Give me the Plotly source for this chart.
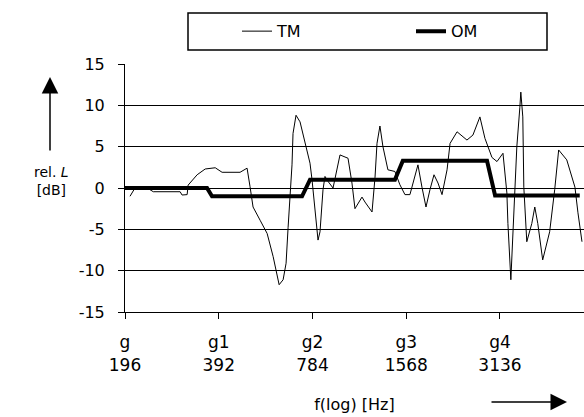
import plotly.graph_objects as go

# ---- data ----
tm_freq = [203.4, 211, 227.7, 241.6, 294.6, 298.9, 310.3, 312.6, 334.1, 354.6, 381.9, 401.8,
           458.9, 483.3, 494.1, 505.2, 532.2, 560.6, 586.1, 612.6, 630.9, 644.9, 654.5, 669.1,
           673.8, 678.9, 694.1, 715, 741.9, 769.7, 781.3, 798.8, 810.7, 816.7, 828.8, 847.4,
           859.9, 879.2, 912.6, 939.6, 960.7, 1019.5, 1049.6, 1073.2, 1130.4, 1155.8, 1217.4,
           1244.7, 1263.1, 1290.8, 1319.8, 1369.3, 1441.9, 1496, 1552.9, 1611.3, 1709.6, 1761.2,
           1814.4, 1868.7, 1925, 1983, 2042.8, 2120.2, 2168, 2283, 2456, 2567, 2703, 2806, 2955,
           3067, 3206, 3300, 3325, 3398, 3449, 3500, 3552, 3631, 3658, 3712, 3740, 3823, 3967,
           4056, 4147, 4300, 4527, 4699, 4839, 5138, 5458, 5581, 5749]
tm_db = [-1.0, 0.0, 0.15, -0.45, -0.45, -0.85, -0.8, 0.35, 1.6, 2.3, 2.45, 1.9,
         1.9, 2.4, 0.15, -2.3, -3.9, -5.5, -8.3, -11.7, -11.1, -9.1, -4.8, 0.15,
         2.8, 6.6, 8.8, 8.0, 5.4, 3.0, 1.0, -2.3, -5.3, -6.3, -5.3, -0.2,
         1.4, 0.8, 0.0, 2.2, 4.0, 3.6, 0.6, -2.5, -1.1, -1.7, -2.9,
         1.3, 5.4, 7.5, 5.0, 2.2, 2.0, 0.4, -0.8, -0.8, 2.8, 0.1,
         -2.3, -0.2, 1.6, 0.6, -0.8, 2.2, 5.4, 6.8, 5.8, 6.4, 8.6, 6.0, 3.7,
         3.2, 4.2, -0.6, -4.3, -11.1, -5.1, 0.6, 5.0, 9.7, 11.6, 8.6, 0.1, -6.5, -4.3,
         -2.3, -4.3, -8.7, -5.3, -0.2, 4.6, 3.4, 0.1, -3.0, -6.5]

om_freq = [196, 359.5, 373, 725.6, 769.7, 1442, 1529, 2849, 3024, 5655]
om_db = [0, 0, -1, -1, 1, 1, 3.3, 3.3, -0.9, -0.9]

tick_freq = [196, 392, 784, 1568, 3136]
tick_text = ["g<br>196", "g1<br>392", "g2<br>784", "g3<br>1568", "g4<br>3136"]
y_ticks = [-15, -10, -5, 0, 5, 10, 15]
y_text = ["-15", "-10", "-5", "0", "5", "10", "15"]

FONT = "DejaVu Sans"

fig = go.Figure()
fig.add_trace(go.Scatter(x=tm_freq, y=tm_db, mode="lines", name="TM",
                         line=dict(color="black", width=1)))
fig.add_trace(go.Scatter(x=om_freq, y=om_db, mode="lines", name="OM",
                         line=dict(color="black", width=4)))

W, H = 584, 417
L, R, T, B = 125, 0, 64, 417 - 312
pw, ph = W - L - R, H - T - B

def px(x):  # screen x -> paper
    return (x - L) / pw

def py(y):  # screen y -> paper
    return (H - B - y) / ph

fig.update_layout(
    width=W, height=H,
    margin=dict(l=L, r=R, t=T, b=B, autoexpand=False),
    paper_bgcolor="white", plot_bgcolor="white",
    font=dict(family=FONT, size=16, color="black"),
    showlegend=True,
    legend=dict(orientation="h", x=px(237), y=py(13) - 0.005, xanchor="left", yanchor="top",
                entrywidth=129, entrywidthmode="pixels",
                bgcolor="rgba(0,0,0,0)", borderwidth=0,
                font=dict(family=FONT, size=16, color="black")),
    xaxis=dict(type="log", range=[2.29226, 3.76612],
               tickvals=tick_freq, ticktext=tick_text,
               tickfont=dict(family=FONT, size=17),
               ticks="outside", ticklen=6, tickcolor="black",
               ticklabelstandoff=9,
               showline=True, linecolor="black", linewidth=1,
               showgrid=False, zeroline=False,
               title=dict(text="f(log) [Hz]", standoff=25,
                          font=dict(family=FONT, size=16))),
    yaxis=dict(range=[-15, 15], tickvals=y_ticks, ticktext=y_text,
               ticks="outside", ticklen=6, tickcolor="black",
               ticklabelstandoff=10,
               showline=True, linecolor="black", linewidth=1,
               showgrid=True, gridcolor="black", gridwidth=1,
               zeroline=False),
    shapes=[dict(type="rect", xref="paper", yref="paper",
                 x0=px(188), x1=px(547), y0=py(50), y1=py(13),
                 line=dict(color="black", width=1.5), fillcolor="rgba(0,0,0,0)")],
    annotations=[
        dict(text="rel. <i>L</i><br>[dB]", xref="paper", yref="paper",
             x=px(51), y=py(181), xanchor="center", yanchor="middle",
             showarrow=False, align="center", font=dict(family=FONT, size=14)),
        dict(text="", xref="paper", yref="paper", x=px(50), y=py(77),
             ax=0, ay=75, showarrow=True, arrowhead=2, arrowsize=2.2,
             arrowwidth=1.5, arrowcolor="black", standoff=0),
        dict(text="", xref="paper", yref="paper", x=px(567), y=py(402),
             ax=-77, ay=0, showarrow=True, arrowhead=2, arrowsize=2.2,
             arrowwidth=1.5, arrowcolor="black", standoff=0),
    ],
)

fig.write_html("out.html", config={"displayModeBar": False},
               post_script="document.body.style.margin='0';")
